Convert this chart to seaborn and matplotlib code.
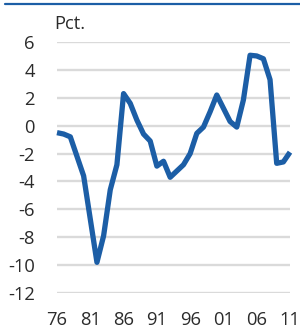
import matplotlib
matplotlib.use("Agg")
import matplotlib.pyplot as plt
import seaborn as sns
import pandas as pd

years = list(range(1976, 2012))
values = [-0.5, -0.6, -0.8, -2.2, -3.6, -6.7, -9.8, -7.9, -4.6, -2.8,
          2.3, 1.6, 0.4, -0.6, -1.1, -2.9, -2.55, -3.7, -3.25, -2.8,
          -2.0, -0.55, -0.1, 1.0, 2.2, 1.25, 0.3, -0.1, 1.85, 5.05,
          5.0, 4.8, 3.3, -2.7, -2.6, -1.9]
yticks = [6, 4, 2, 0, -2, -4, -6, -8, -10, -12]
xtick_years = [1976, 1981, 1986, 1991, 1996, 2001, 2006, 2011]
xtick_labels = ["76", "81", "86", "91", "96", "01", "06", "11"]

df = pd.DataFrame({"year": years, "value": values})

sns.set_theme(style="white")
plt.rcParams['font.family'] = ['Open Sans', 'DejaVu Sans']

blue = "#1c5ea6"
text_color = "#2b2b2b"
fs = 13.2

fig = plt.figure(figsize=(3.0, 3.29), dpi=100)
ax = fig.add_axes([0.19, 0.1094, 0.7767, 0.7629])

for y in yticks:
    ax.axhline(y, color="#dadada", lw=1.7, zorder=1)

sns.lineplot(data=df, x="year", y="value", ax=ax, color=blue, lw=3.8,
             zorder=3, clip_on=False)
for ln in ax.lines:
    ln.set_solid_joinstyle("round")
    ln.set_solid_capstyle("butt")

ax.set_xlim(1976, 2011)
ax.set_ylim(-12, 6)
ax.set_yticks(yticks)
ax.set_yticklabels([str(v) for v in yticks])
ax.set_xticks(xtick_years)
ax.set_xticklabels(xtick_labels)
ax.tick_params(axis="y", length=0, pad=16, labelsize=fs, labelcolor=text_color)
ax.tick_params(axis="x", length=0, pad=13, labelsize=fs, labelcolor=text_color)
ax.set_xlabel("")
ax.set_ylabel("")
for s in ax.spines.values():
    s.set_visible(False)

fig.text(54 / 300, 1 - 24 / 329, "Pct.", fontsize=fs, color=text_color,
         ha="left", va="center")

fig.add_artist(plt.Line2D([5 / 300, 1.0], [1 - 3.5 / 329, 1 - 3.5 / 329],
                          color=blue, lw=1.6, transform=fig.transFigure))

fig.savefig("out.png", dpi=100)
